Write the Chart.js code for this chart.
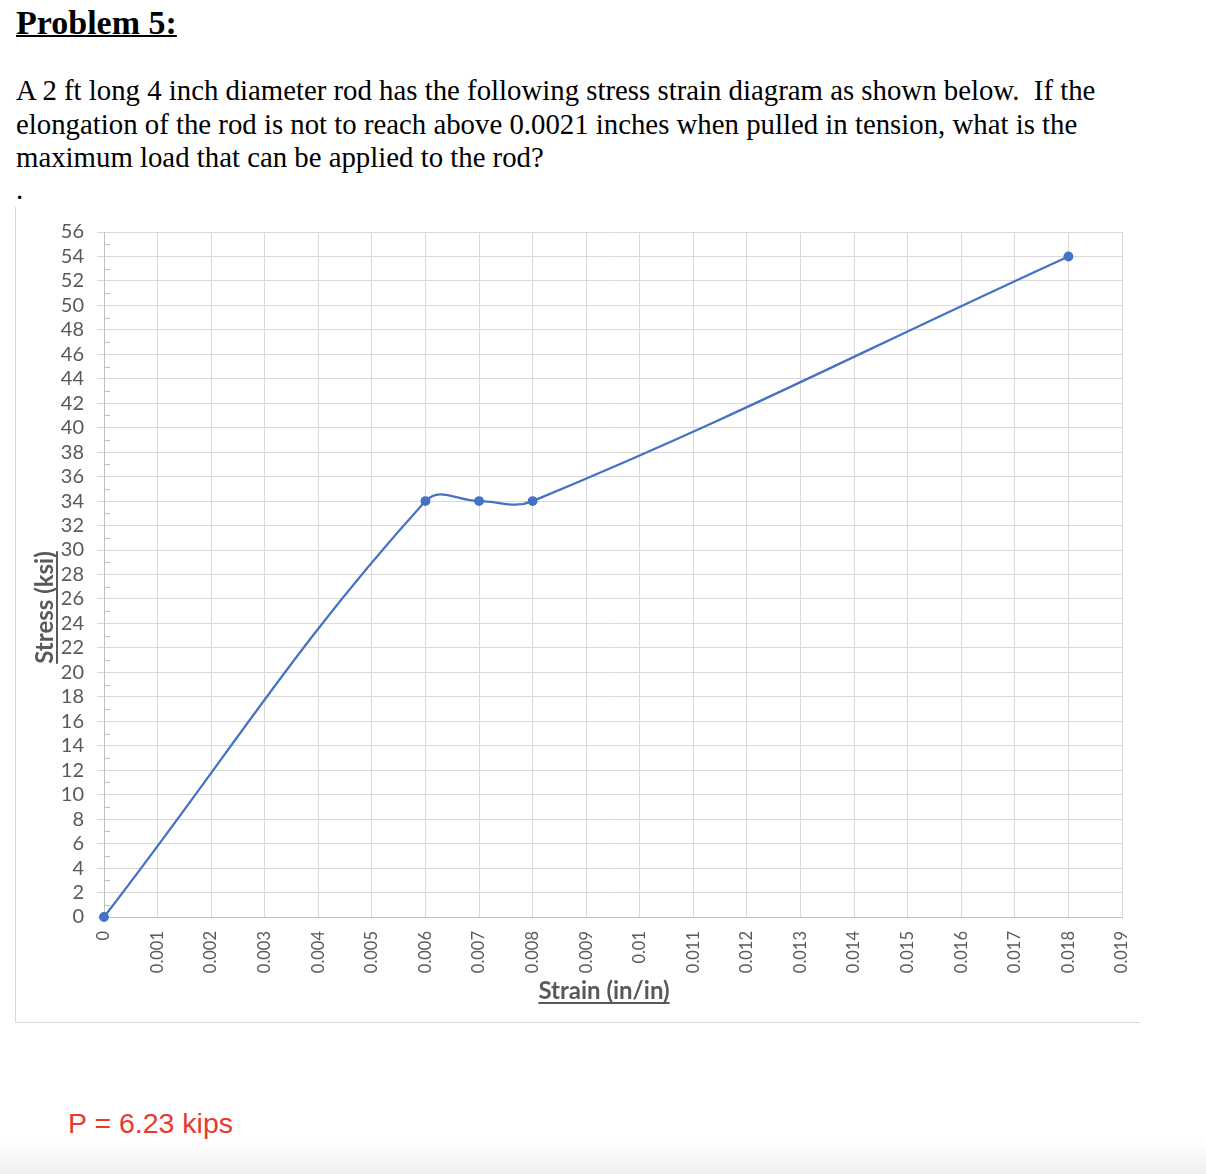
<!DOCTYPE html>
<html>
<head>
<meta charset="utf-8">
<script src="https://cdn.jsdelivr.net/npm/chart.js@4.4.0/dist/chart.umd.min.js"></script>
<style>
html, body { margin: 0; padding: 0; background: #fff; }
body { width: 1206px; height: 1174px; position: relative; overflow: hidden; font-family: "Liberation Serif", "Times New Roman", serif; color: #000; }
#title { position: absolute; left: 16px; top: 3px; margin: 0; font-size: 34px; font-weight: bold; line-height: 40px; text-decoration: underline; text-decoration-thickness: 2px; }
#text { position: absolute; left: 16px; top: 74px; margin: 0; font-size: 28.8px; line-height: 33.5px; white-space: nowrap; }
#dot { position: absolute; left: 16px; top: 173px; font-size: 28.8px; line-height: 33.5px; }
#box { position: absolute; left: 15px; top: 207px; width: 1124px; height: 815px; border-left: 1px solid #d9d9d9; border-bottom: 1px solid #d9d9d9; }
#answer { position: absolute; left: 68px; top: 1104px; font-family: "Liberation Sans", Arial, sans-serif; font-size: 28.5px; line-height: 38px; color: #e8392c; }
#shade { position: absolute; left: 0; top: 1140px; width: 1206px; height: 34px; background: linear-gradient(#fff, #efefef); }
</style>
</head>
<body>
<div id="title">Problem 5:</div>
<p id="text">A 2 ft long 4 inch diameter rod has the following stress strain diagram as shown below.&nbsp; If the<br>elongation of the rod is not to reach above 0.0021 inches when pulled in tension, what is the<br>maximum load that can be applied to the rod?</p>
<div id="dot">.</div>
<div id="box"><canvas id="chart" width="1124" height="815"></canvas></div>
<div id="answer">P = 6.23 kips</div>
<div id="shade"></div>
<script>
// stress-strain points
const strain = [0, 0.006, 0.007, 0.008, 0.018];
const stress = [0, 34, 34, 34, 54];

const xTickLabels = ['0', '0.001', '0.002', '0.003', '0.004', '0.005', '0.006', '0.007', '0.008', '0.009',
  '0.01', '0.011', '0.012', '0.013', '0.014', '0.015', '0.016', '0.017', '0.018', '0.019'];

const xTitle = 'Strain (in/in)';
const yTitle = 'Stress (ksi)';

const labelGray = '#595959';
const gridGray = '#d9d9d9';
const axisGray = '#bfbfbf';
const blue = '#4472c4';

// minor ticks on the stress axis + underlined axis titles
const extras = {
  id: 'extras',
  beforeDatasetsDraw(chart) {
    const { ctx, chartArea: a, scales: { y } } = chart;
    ctx.save();
    ctx.strokeStyle = axisGray;
    ctx.lineWidth = 1;
    for (let v = 1; v < 56; v += 2) {
      const py = Math.round(y.getPixelForValue(v)) + 0.5;
      ctx.beginPath();
      ctx.moveTo(a.left, py);
      ctx.lineTo(a.left + 6, py);
      ctx.stroke();
    }
    ctx.restore();
  },
  afterDraw(chart) {
    const { ctx, chartArea: a } = chart;
    ctx.save();
    ctx.fillStyle = labelGray;
    ctx.font = 'bold 24px Lato';
    ctx.textAlign = 'center';
    ctx.textBaseline = 'alphabetic';

    // y title, rotated
    let w = ctx.measureText(yTitle).width;
    ctx.save();
    ctx.translate(a.left - 51, (a.top + a.bottom) / 2 + 33);
    ctx.rotate(-Math.PI / 2);
    ctx.fillText(yTitle, 0, 0);
    ctx.fillRect(-w / 2, 3, w, 2);
    ctx.restore();

    // x title
    w = ctx.measureText(xTitle).width;
    const cx = (a.left + a.right) / 2 - 9;
    const by = a.bottom + 82;
    ctx.fillText(xTitle, cx, by);
    ctx.fillRect(cx - w / 2, by + 3, w, 2);
    ctx.restore();
  }
};

new Chart(document.getElementById('chart'), {
  type: 'line',
  data: {
    datasets: [{
      data: strain.map((x, i) => ({ x: x, y: stress[i] })),
      borderColor: blue,
      backgroundColor: blue,
      borderWidth: 2.25,
      pointRadius: 3.8,
      pointHoverRadius: 3.8,
      tension: 0.4,
      clip: false
    }]
  },
  options: {
    responsive: false,
    animation: false,
    layout: { padding: { left: 0, top: 25, right: 18, bottom: 0 } },
    plugins: { legend: { display: false }, tooltip: { enabled: false } },
    scales: {
      x: {
        type: 'linear',
        min: 0,
        max: 0.019,
        afterFit: s => { s.height = 105; s.paddingLeft = 0; s.paddingRight = 0; },
        grid: { color: gridGray, drawTicks: false },
        border: { color: axisGray },
        ticks: {
          stepSize: 0.001,
          autoSkip: false,
          minRotation: 90,
          maxRotation: 90,
          padding: 14,
          color: labelGray,
          font: { family: 'Lato', size: 16.5 },
          callback: v => xTickLabels[Math.round(v * 1000)]
        }
      },
      y: {
        min: 0,
        max: 56,
        afterFit: s => { s.width = 88; s.paddingTop = 0; s.paddingBottom = 0; },
        grid: { color: gridGray, tickLength: 7, tickColor: gridGray },
        border: { color: axisGray },
        ticks: {
          stepSize: 2,
          autoSkip: false,
          padding: 13,
          color: labelGray,
          font: { family: 'Lato', size: 20 }
        }
      }
    }
  },
  plugins: [extras]
});
</script>
</body>
</html>
